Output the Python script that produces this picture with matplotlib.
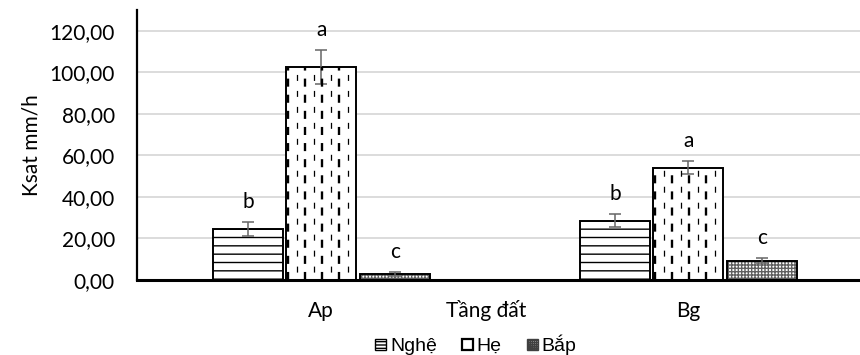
"""
Ksat theo tầng đất cho ba loại cây trồng (Nghệ, Hẹ, Bắp).
"""
import numpy as np
import matplotlib
matplotlib.use('Agg')
import matplotlib.pyplot as plt
from matplotlib.patches import Patch

plt.rcParams['hatch.linewidth'] = 1.0
plt.rcParams['lines.scale_dashes'] = False

# data
categories = ['Ap', 'Bg']
series_names = ['Nghệ', 'Hẹ', 'Bắp']
nghe = [24.6, 28.6]
nghe_err = [3.4, 3.1]
he = [102.6, 54.0]
he_err = [8.0, 3.1]
bap = [2.9, 9.3]
bap_err = [1.0, 1.3]
nghe_letters = ['b', 'b']
he_letters = ['a', 'a']
bap_letters = ['c', 'c']
y_ticks = [0, 20, 40, 60, 80, 100, 120]

TICK_FONT = ['Lato', 'Noto Sans', 'DejaVu Sans']
LEGEND_FONT = ['Liberation Sans', 'DejaVu Sans']
FS = 15

fig = plt.figure(figsize=(8.6, 3.55), dpi=100)
ax = fig.add_axes([0.1593, 0.2113, 0.8407, 0.7605])

x = np.arange(len(categories))
offset = 0.2
width = 0.19
err_style = dict(ecolor='#666666', elinewidth=1.1, capsize=4.3, capthick=1.1)

bars_nghe = ax.bar(x - offset, nghe, width, yerr=nghe_err, color='white',
                   edgecolor='black', linewidth=1.4, hatch='--',
                   error_kw=err_style, zorder=3)
bars_he = ax.bar(x, he, width, yerr=he_err, color='white',
                 edgecolor='black', linewidth=1.4,
                 error_kw=err_style, zorder=3)
# checker fill drawn in grey, then the black outline on top
ax.bar(x + offset, bap, width, color='white', edgecolor='#606060',
       linewidth=0, hatch='+++++', zorder=3)
bars_bap = ax.bar(x + offset, bap, width, yerr=bap_err, fill=False,
                  edgecolor='black', linewidth=1.4,
                  error_kw=err_style, zorder=3.2)

# dashed vertical pattern inside the He bars (thick / thin alternating)
n_lines = 8
for bar in bars_he:
    left, w, top = bar.get_x(), bar.get_width(), bar.get_height()
    for i in range(n_lines):
        xi = left + w * (i + 0.25) / (n_lines + 0.25)
        if i % 2 == 0:
            ln, = ax.plot([xi, xi], [0, top], color='black', lw=1.7,
                          linestyle=(0, (5.8, 5.8)), zorder=3.5)
        else:
            ln, = ax.plot([xi, xi], [0, top], color='black', lw=0.9,
                          linestyle=(5.8, (4.3, 7.2)), zorder=3.5)
        ln.set_clip_path(bar)

# significance letters above error bars
for vals, errs, letters, dx in [(nghe, nghe_err, nghe_letters, -offset),
                                (he, he_err, he_letters, 0),
                                (bap, bap_err, bap_letters, offset)]:
    for xi, v, e, t in zip(x, vals, errs, letters):
        ax.annotate(t, (xi + dx, v + e), xytext=(0, 14.5),
                    textcoords='offset points', ha='center', va='center',
                    fontsize=FS, family=TICK_FONT, zorder=5)

# axes formatting
ax.set_xlim(-0.502, 1.468)
ax.set_ylim(0, 130)
ax.set_yticks(y_ticks)
ax.set_yticklabels([f'{v:.2f}'.replace('.', ',') for v in y_ticks],
                   family=TICK_FONT, fontsize=FS)
ax.set_xticks(x)
ax.set_xticklabels(categories, family=TICK_FONT, fontsize=FS)
ax.tick_params(axis='both', length=0)
ax.tick_params(axis='y', pad=16)
ax.tick_params(axis='x', pad=15)
ax.yaxis.grid(True, color='#d9d9d9', lw=1.3, zorder=0)
ax.set_axisbelow(True)
for side in ('top', 'right'):
    ax.spines[side].set_visible(False)
ax.spines['left'].set_linewidth(1.6)
ax.spines['bottom'].set_linewidth(2.2)
ax.spines['left'].set_zorder(4)
ax.spines['bottom'].set_zorder(4)

ax.set_ylabel('Ksat mm/h', family=TICK_FONT, fontsize=FS, labelpad=6)
fig.text(486 / 860, 1 - 317 / 355, 'Tầng đất', ha='center', va='baseline',
         family=TICK_FONT, fontsize=FS)

handles = [Patch(facecolor='white', edgecolor='black', hatch='-----'),
           Patch(facecolor='white', edgecolor='black', linewidth=1.6),
           Patch(facecolor='white', edgecolor='#404040', hatch='++++++++')]
fig.legend(handles, series_names, loc='center', ncol=3,
           bbox_to_anchor=(476 / 860, 1 - 345 / 355), frameon=False,
           prop={'family': LEGEND_FONT, 'size': 14},
           handlelength=0.55, handleheight=0.55, handletextpad=0.2,
           columnspacing=1.3, borderaxespad=0, borderpad=0)

fig.savefig('out.png', dpi=100)
